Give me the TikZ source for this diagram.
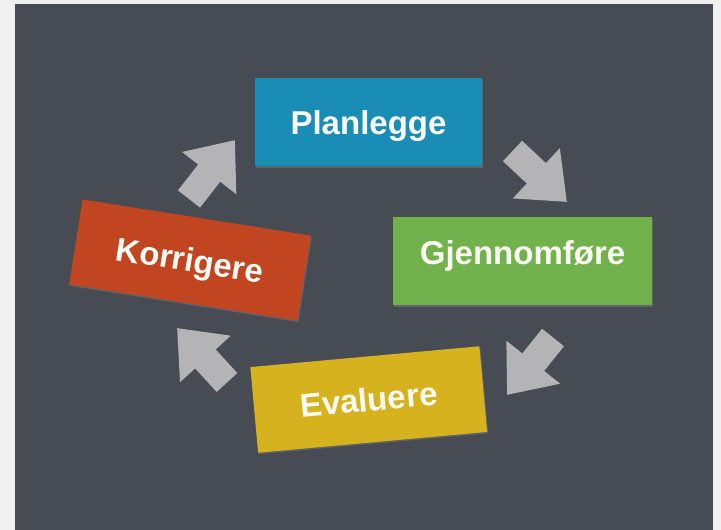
\documentclass[tikz,border=0pt]{standalone}
\usepackage{fontspec}
\setmainfont{Liberation Sans}
\usepackage{tikz}
\usetikzlibrary{arrows.meta, shadows}
\definecolor{framegrey}{RGB}{240, 240, 240}
\definecolor{slate}{RGB}{71, 75, 83}
\definecolor{planblue}{RGB}{26, 141, 182}
\definecolor{gjengreen}{RGB}{114, 178, 76}
\definecolor{korrred}{RGB}{193, 69, 32}
\definecolor{evalyellow}{RGB}{214, 178, 30}
\definecolor{arrowgrey}{RGB}{180, 180, 182}
\definecolor{labelwhite}{RGB}{250, 250, 244}
\tikzset{
  stagebox/.style={inner sep=0pt, text=labelwhite, minimum height=88pt,
    font=\fontsize{33}{40}\selectfont\bfseries, text height=23.6pt, text depth=0pt,
    drop shadow={shadow xshift=1pt, shadow yshift=-1.5pt, opacity=0.45}},
  cyclearrow/.style={draw=arrowgrey, line width=28pt,
    -{Triangle[length=42pt, width=66pt]}}
}

\begin{document}
\begin{tikzpicture}[x=1pt, y=1pt]
  \useasboundingbox (0,0) rectangle (721,530);
  % The board
  \fill[framegrey] (0,0) rectangle (721,530);
  \fill[slate] (15,0) rectangle (713,526);

  % Stages
  \node[stagebox, fill=planblue, minimum width=227pt] (plan) at (368.5, 407.5) {Planlegge};
  \node[stagebox, fill=gjengreen, minimum width=259pt, text depth=16.6pt] (gjen) at (522.5, 268.5) {Gjennomføre};
  \node[stagebox, fill=evalyellow, minimum width=230pt, minimum height=86pt, rotate=5.2] (eval) at (368.75, 130.5) {Evaluere};
  \node[stagebox, fill=korrred, minimum width=231pt, minimum height=86pt, rotate=-9] (korr) at (190, 270) {Korrigere};

  % Cycle arrows
  \coordinate (a1tail) at (189, 331);   \coordinate (a1tip) at (235, 390);
  \coordinate (a2tail) at (512.5, 379); \coordinate (a2tip) at (567, 328);
  \coordinate (a3tail) at (553, 192.5); \coordinate (a3tip) at (507, 135);
  \coordinate (a4tail) at (227, 147.5); \coordinate (a4tip) at (177, 202);
  \draw[cyclearrow] (a1tail) -- (a1tip);
  \draw[cyclearrow] (a2tail) -- (a2tip);
  \draw[cyclearrow] (a3tail) -- (a3tip);
  \draw[cyclearrow] (a4tail) -- (a4tip);
\end{tikzpicture}
\end{document}
